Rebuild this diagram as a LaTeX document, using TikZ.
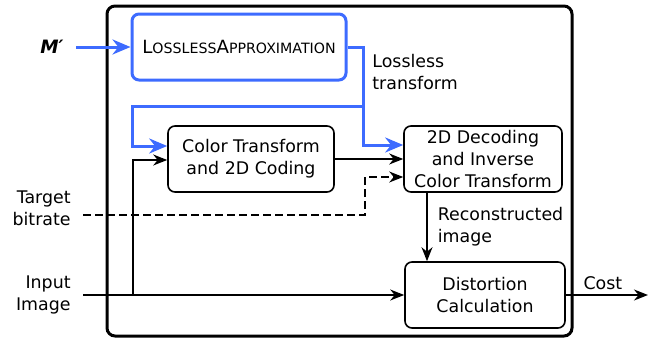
\documentclass[tikz,border=0pt]{standalone}
\usepackage{fontspec}
\setmainfont{DejaVu Sans}
\usetikzlibrary{calc, arrows.meta, positioning}
\definecolor{approxblue}{HTML}{3D6BFF}
\newcommand{\fakesc}[1]{{\fontsize{7.1pt}{11pt}\selectfont #1}}

\begin{document}
\begin{tikzpicture}[
    x=0.5pt, y=-0.5pt,
    font=\fontsize{8.7pt}{11pt}\selectfont,
    block/.style={draw=#1, rounded corners=3.5pt, line width=0.8pt, minimum height=33pt, align=center, inner sep=1pt},
    block/.default=black,
    sidelabel/.style={anchor=east, align=right, inner xsep=6pt, inner ysep=1pt},
    flow/.style={-{Stealth[length=7pt,width=5.5pt]}, line width=0.8pt},
    blueflow/.style={-{Stealth[length=9pt,width=7.5pt]}, draw=approxblue, line width=1.5pt}
]
    \useasboundingbox (0,0) rectangle (665,343);

    % Outer frame
    \draw[line width=1.5pt, rounded corners=4pt] (107,6) rectangle (572,336);

    % Blocks
    \node[block=approxblue, line width=1.5pt, minimum width=107pt] (approx) at (239,47) {{\fontsize{9.1pt}{11pt}\selectfont L}\fakesc{OSSLESS}{\fontsize{9.1pt}{11pt}\selectfont A}\fakesc{PPROXIMATION}};
    \node[block, minimum width=83pt] (ct) at (251,159) {Color Transform\\and 2D Coding};
    \node[block, minimum width=79pt] (dec) at (483,159) {2D Decoding\\and Inverse\\Color Transform};
    \node[block, minimum width=80pt] (dist) at (485,295) {Distortion\\Calculation};

    % Inputs
    \node[sidelabel, font=\fontsize{9.2pt}{11pt}\selectfont\bfseries\itshape] (mprime) at (76,47) {M′};
    \node[sidelabel] (target) at (83,208) {Target\\bitrate};
    \node[sidelabel] (inimg) at (83,295) {Input\\Image};
    \coordinate (cost) at (648,295);

    % Lossless transform (blue)
    \coordinate (split) at (363,106);
    \coordinate (bend) at (132,106);
    \draw[blueflow] (mprime) -- (approx);
    \draw[blueflow] (approx.east) -| (split) |- ($(dec.west)+(0,-14)$);
    \draw[blueflow] (split) -- (bend) |- ($(ct.west)+(0,-13)$);
    \node[anchor=west, align=left, inner sep=3pt] (lossless) at (366,72) {Lossless\\transform};

    % Coding path
    \coordinate (tap) at (133,295);
    \draw[flow] (inimg) -- (dist);
    \draw[flow] (tap) |- ($(ct.west)+(0,1)$);
    \draw[flow] (ct) -- (dec);
    \draw[flow, dash pattern=on 4pt off 2pt] ($(target.east)+(0,7)$) -| ($(dec.west)+(-38,18)$) -- ($(dec.west)+(0,18)$);

    % Reconstruction and cost
    \coordinate (recon) at ($(dec.south)+(-56,0)$);
    \draw[flow] (recon) -- (recon |- dist.north) node[midway, right, align=left, inner xsep=5pt] {Reconstructed\\image};
    \draw[flow] (dist) -- (cost) node[midway, above, yshift=-1pt, xshift=-2pt] {Cost};

\end{tikzpicture}
\end{document}
